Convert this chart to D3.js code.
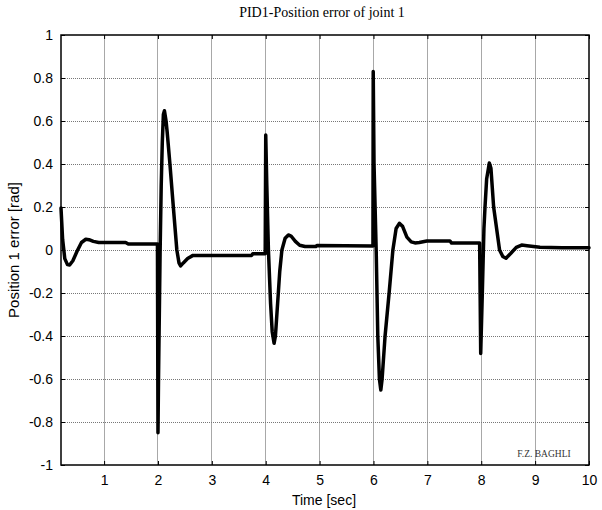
<!DOCTYPE html>
<html>
<head>
<meta charset="utf-8">
<script src="https://cdn.jsdelivr.net/npm/d3@7"></script>
<style>
  html, body { margin: 0; padding: 0; background: #fff; }
  svg { display: block; }
</style>
</head>
<body>
<svg id="chart" width="602" height="510"></svg>
<script>
const chartTitle = "PID1-Position error of joint 1";
const xLabel = "Time [sec]";
const yLabel = "Position 1 error [rad]";
const credit = "F.Z. BAGHLI";

const xTicks = [1, 2, 3, 4, 5, 6, 7, 8, 9, 10];
const yTicks = [-1, -0.8, -0.6, -0.4, -0.2, 0, 0.2, 0.4, 0.6, 0.8, 1];
const yTickLabels = ["-1", "-0.8", "-0.6", "-0.4", "-0.2", "0", "0.2", "0.4", "0.6", "0.8", "1"];

const time = [
  0.2, 0.23, 0.27, 0.32, 0.36, 0.42, 0.5, 0.58, 0.66, 0.72, 0.8, 0.9, 1.4, 1.45, 1.99,
  2.0, 2.01, 2.04, 2.06, 2.08, 2.1, 2.12, 2.15, 2.17, 2.22, 2.285, 2.35, 2.39, 2.42, 2.47, 2.55, 2.65, 3.74, 3.76, 3.99,
  4.0, 4.02, 4.05, 4.09, 4.12, 4.155, 4.18, 4.22, 4.26, 4.3, 4.36, 4.42, 4.47, 4.55, 4.63, 4.73, 4.93, 4.95, 5.99,
  5.995, 6.01, 6.05, 6.08, 6.11, 6.136, 6.16, 6.215, 6.29, 6.36, 6.42, 6.48, 6.54, 6.62, 6.7, 6.77, 6.85, 6.99, 7.42, 7.45, 7.97,
  7.99, 8.02, 8.05, 8.07, 8.1, 8.15, 8.18, 8.23, 8.34, 8.4, 8.46, 8.55, 8.65, 8.75, 8.85, 9.09, 9.5, 10
];
const error = [
  0.195, 0.05, -0.04, -0.068, -0.07, -0.05, -0.005, 0.035, 0.05, 0.048, 0.04, 0.035, 0.035, 0.028, 0.028,
  -0.85, -0.6, 0.0, 0.3, 0.5, 0.63, 0.648, 0.6, 0.55, 0.405, 0.2, 0.0, -0.06, -0.074, -0.06, -0.04, -0.025, -0.025, -0.017, -0.017,
  0.535, 0.3, 0.0, -0.25, -0.38, -0.434, -0.4, -0.25, -0.1, 0.0, 0.055, 0.07, 0.065, 0.04, 0.022, 0.016, 0.016, 0.021, 0.019,
  0.83, 0.4, 0.0, -0.4, -0.6, -0.651, -0.6, -0.4, -0.2, 0.0, 0.1, 0.124, 0.11, 0.06, 0.038, 0.033, 0.035, 0.042, 0.042, 0.032, 0.032,
  -0.481, -0.2, 0.1, 0.2, 0.33, 0.405, 0.38, 0.2, 0.0, -0.03, -0.038, -0.015, 0.012, 0.023, 0.02, 0.013, 0.011, 0.01
];

const svg = d3.select("#chart");
const m = { left: 61, right: 589, top: 35, bottom: 465 };
const x = d3.scaleLinear().domain([0.2, 10]).range([m.left, m.right]);
const y = d3.scaleLinear().domain([-1, 1]).range([m.bottom, m.top]);

// grid
const grid = svg.append("g");
grid.selectAll("line.v").data(xTicks.filter(d => d < 10)).enter().append("line")
  .attr("x1", d => x(d)).attr("x2", d => x(d))
  .attr("y1", m.top).attr("y2", m.bottom)
  .attr("stroke", "#a8a8a8").attr("stroke-width", 1)
  .attr("shape-rendering", "crispEdges");
grid.selectAll("line.h").data(yTicks.filter(d => d > -1 && d < 1)).enter().append("line")
  .attr("x1", m.left).attr("x2", m.right)
  .attr("y1", d => y(d)).attr("y2", d => y(d))
  .attr("stroke", "#777").attr("stroke-width", 1)
  .attr("stroke-dasharray", "1,1")
  .attr("shape-rendering", "crispEdges");

// axes (inward ticks, MATLAB-like)
const fontSans = "'Liberation Sans', Arial, sans-serif";
const xAxisB = d3.axisBottom(x).tickValues(xTicks).tickSizeInner(-4).tickSizeOuter(0).tickPadding(10).tickFormat(d3.format("d"));
const xAxisT = d3.axisTop(x).tickValues(xTicks).tickSizeInner(-4).tickSizeOuter(0).tickFormat("");
const yAxisL = d3.axisLeft(y).tickValues(yTicks).tickSizeInner(-4).tickSizeOuter(0).tickPadding(8)
  .tickFormat((d, i) => yTickLabels[i]);
const yAxisR = d3.axisRight(y).tickValues(yTicks).tickSizeInner(-4).tickSizeOuter(0).tickFormat("");

function styleAxis(g) {
  g.select(".domain").remove();
  g.selectAll("line").attr("stroke", "#000");
  g.selectAll("text").attr("font-family", fontSans).attr("font-size", 14).attr("fill", "#000");
}
svg.append("g").attr("transform", `translate(0,${m.bottom})`).call(xAxisB).call(styleAxis);
svg.append("g").attr("transform", `translate(0,${m.top})`).call(xAxisT).call(styleAxis);
svg.append("g").attr("transform", `translate(${m.left},0)`).call(yAxisL).call(styleAxis);
svg.append("g").attr("transform", `translate(${m.right},0)`).call(yAxisR).call(styleAxis);

// frame
svg.append("rect")
  .attr("x", m.left).attr("y", m.top)
  .attr("width", m.right - m.left).attr("height", m.bottom - m.top)
  .attr("fill", "none").attr("stroke", "#000").attr("stroke-width", 1.5);

// line
const pts = time.map((t, i) => [t, error[i]]);
const line = d3.line().x(d => x(d[0])).y(d => y(d[1]));
svg.append("path").datum(pts)
  .attr("d", line)
  .attr("fill", "none").attr("stroke", "#000")
  .attr("stroke-width", 3.5)
  .attr("stroke-linejoin", "round").attr("stroke-linecap", "round");

// credit
svg.append("text")
  .attr("x", 544).attr("y", 457)
  .attr("text-anchor", "middle")
  .attr("font-family", "'Liberation Serif', 'Times New Roman', serif")
  .attr("font-size", 9.5).attr("fill", "#333")
  .text(credit);

// title
svg.append("text")
  .attr("x", 322).attr("y", 17)
  .attr("text-anchor", "middle")
  .attr("font-family", "'Liberation Serif', 'Times New Roman', serif")
  .attr("font-size", 14).attr("fill", "#000")
  .text(chartTitle);

// x label
svg.append("text")
  .attr("x", 324).attr("y", 505)
  .attr("text-anchor", "middle")
  .attr("font-family", fontSans).attr("font-size", 14).attr("fill", "#000")
  .text(xLabel);

// y label
svg.append("text")
  .attr("transform", `translate(19,${(m.top + m.bottom) / 2}) rotate(-90)`)
  .attr("text-anchor", "middle")
  .attr("font-family", fontSans).attr("font-size", 15).attr("fill", "#000")
  .text(yLabel);
</script>
</body>
</html>
